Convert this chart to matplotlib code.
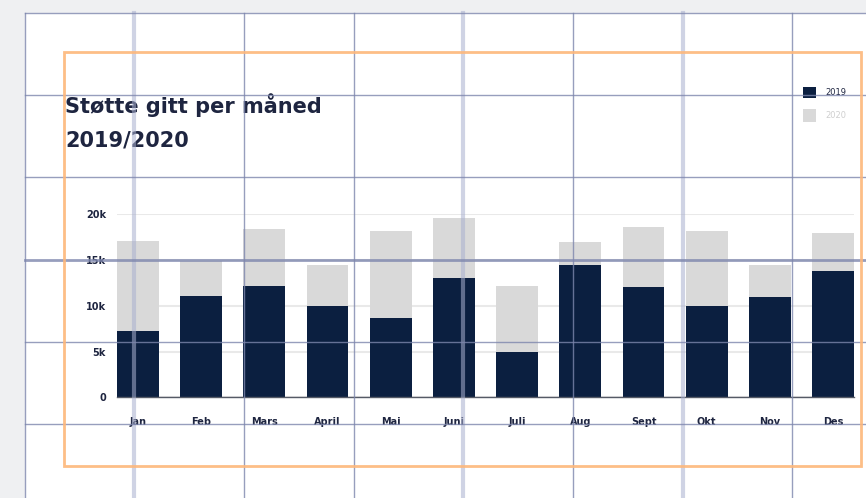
import matplotlib.pyplot as plt
from matplotlib.lines import Line2D
from matplotlib.patches import Rectangle
import numpy as np

months = ["Jan", "Feb", "Mars", "April", "Mai", "Juni", "Juli", "Aug", "Sept", "Okt", "Nov", "Des"]
support_2019 = [7200, 11100, 12200, 10000, 8700, 13000, 5000, 14500, 12000, 10000, 11000, 13800]
support_2020 = [17100, 14900, 18400, 14500, 18200, 19600, 12200, 17000, 18600, 18200, 14500, 18000]
y_ticks = [0, 5000, 10000, 15000, 20000]
y_tick_labels = ["0", "5k", "10k", "15k", "20k"]
series_labels = ["2019", "2020"]

W, H = 866, 498
NAVY = "#0b1f40"
GREY = "#d9d9d9"
TEXT = "#1e2540"

plt.rcParams["font.family"] = ["DejaVu Sans"]

fig = plt.figure(figsize=(W / 100, H / 100), dpi=100, facecolor="#eff0f2")


def fx(px):
    return px / W


def fy(py):
    return 1 - py / H


# white artboard
fig.add_artist(Rectangle((fx(25), 0), 1 - fx(25), fy(13), transform=fig.transFigure,
                         facecolor="white", edgecolor="none", zorder=-10))

# chart axes
ax = fig.add_axes([fx(117), fy(397.3), fx(854) - fx(117), fy(214.3) - fy(397.3)])
ax.set_facecolor("none")
x = np.arange(len(months))
ax.bar(x, support_2020, width=0.66, color=GREY, label=series_labels[1], zorder=2)
ax.bar(x, support_2019, width=0.66, color=NAVY, label=series_labels[0], zorder=3)
ax.set_xlim(-0.33, len(months) - 0.67)
ax.set_ylim(0, 20000)
ax.set_yticks(y_ticks)
ax.set_yticklabels(y_tick_labels)
ax.set_xticks(x)
ax.set_xticklabels(months)
ax.grid(axis="y", color="#e9e9e9", linewidth=1.5, zorder=0)
ax.set_axisbelow(True)
for side in ["top", "right", "left"]:
    ax.spines[side].set_visible(False)
ax.spines["bottom"].set_color("#555a66")
ax.spines["bottom"].set_linewidth(1)
ax.spines["bottom"].set_zorder(4)
ax.tick_params(length=0)
ax.tick_params(axis="y", pad=8, labelsize=7, labelcolor=TEXT)
ax.tick_params(axis="x", pad=14, labelsize=7, labelcolor=TEXT)
for lab in ax.get_xticklabels() + ax.get_yticklabels():
    lab.set_fontweight("bold")

# title
fig.text(fx(65), fy(112.7), "Støtte gitt per måned", fontsize=15, color=TEXT,
         fontweight="bold", va="baseline", ha="left")
fig.text(fx(65), fy(146), "2019/2020", fontsize=15, color=TEXT,
         fontweight="bold", va="baseline", ha="left")

# legend (manual swatches)
fig.add_artist(Rectangle((fx(803), fy(98)), fx(13), fy(86.7) - fy(98), transform=fig.transFigure,
                         facecolor=NAVY, edgecolor="none"))
fig.text(fx(825), fy(92.5), series_labels[0], fontsize=6, color=TEXT, va="center")
fig.add_artist(Rectangle((fx(803), fy(122.5)), fx(13), fy(109.5) - fy(122.5), transform=fig.transFigure,
                         facecolor=GREY, edgecolor="none"))
fig.text(fx(825), fy(116), series_labels[1], fontsize=6, color="#cfcfcf", va="center")

# design layout grid
thin = dict(color="#7d86ad", linewidth=1, alpha=0.8, zorder=20)
thick = dict(color="#a9b0cf", linewidth=3, alpha=0.55, zorder=20)
for xp, style in [(25, thin), (134, thick), (244, thin), (354, thin), (463, thick),
                  (573, thin), (683, thick), (792, thin)]:
    fig.add_artist(Line2D([fx(xp), fx(xp)], [0, fy(13)], transform=fig.transFigure, **style))
for yp, lw in [(13, 1), (95, 1), (177, 1), (259.5, 2), (342, 1), (424, 1)]:
    fig.add_artist(Line2D([fx(25), 1], [fy(yp), fy(yp)], transform=fig.transFigure,
                          color="#7d86ad", linewidth=lw, alpha=0.8, zorder=20))

# orange frame
fig.add_artist(Rectangle((fx(64), fy(466)), fx(861) - fx(64), fy(52) - fy(466),
                         transform=fig.transFigure, facecolor="none",
                         edgecolor="#fdb77a", linewidth=2, alpha=0.9, zorder=21))

fig.savefig("out.png", dpi=100, facecolor=fig.get_facecolor())
